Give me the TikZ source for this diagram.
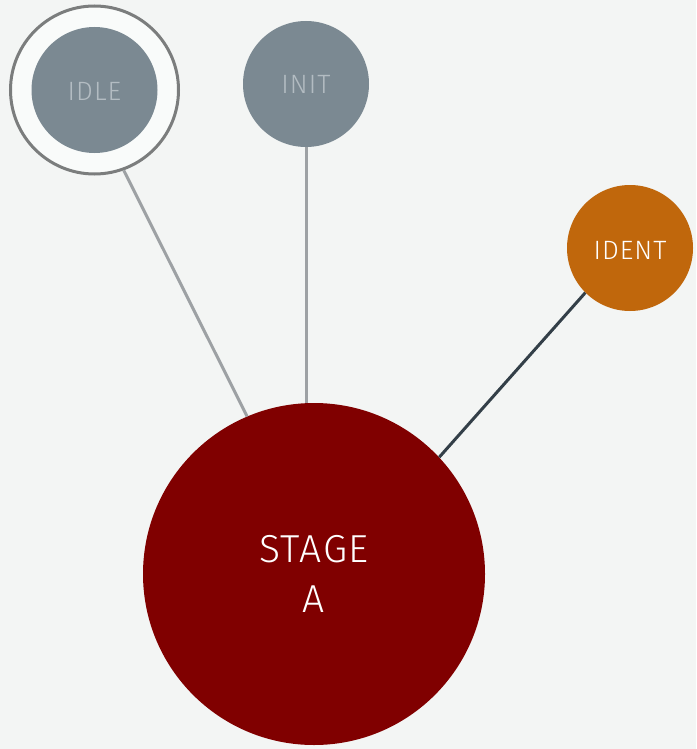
\documentclass[tikz,border=0pt]{standalone}
\usepackage{fontspec}
\setmainfont{Fira Sans Light}[LetterSpace=4]
\definecolor{bgc}{HTML}{F3F5F4}
\definecolor{slate}{HTML}{7B8992}
\definecolor{slatetext}{HTML}{B3BCC2}
\definecolor{ringfill}{HTML}{F9FBFA}
\definecolor{ringline}{HTML}{7B7D7D}
\definecolor{identc}{HTML}{C0670C}
\definecolor{stagec}{HTML}{800000}
\definecolor{lightline}{HTML}{9DA1A4}
\definecolor{darkline}{HTML}{333F48}
\begin{document}
\begin{tikzpicture}[x=1pt,y=-1pt,
  smallfont/.style={font=\fontsize{26.5}{31}\selectfont},
  smallnode/.style={circle,inner sep=0pt,minimum size=126pt,smallfont},
  grey/.style={smallnode,fill=slate,text=slatetext},
  ringstyle/.style={circle,inner sep=0pt,minimum size=168pt,draw=ringline,line width=3pt,fill=ringfill},
  bignode/.style={circle,inner sep=0pt,minimum size=342pt,fill=stagec,text=white,align=center,font=\fontsize{39}{50}\selectfont},
  linklight/.style={draw=lightline,line width=3pt},
  linkdark/.style={draw=darkline,line width=3pt}]
\fill[bgc] (0,0) rectangle (696,749);
\useasboundingbox (0,0) rectangle (696,749);
\node[ringstyle] (ring) at (94.5,90) {};
\node[grey] (idle) at (94.5,90) {};
\node[text=slatetext,smallfont] (idlet) at (94.5,91.5) {IDLE};
\node[grey] (init) at (306,84) {INIT};
\node[smallnode,fill=identc] (ident) at (630,248) {};
\node[text=white,smallfont] (identt) at (630,250.5) {IDENT};
\node[bignode] (stage) at (314,574) {STAGE\\A};
\draw[linklight] (ring.-70.6) -- (stage.113.9);
\draw[linklight] (init.south) -- (306,403) coordinate (inittop);
\draw[linkdark] (ident.-135.8) -- (stage.43.4);
\end{tikzpicture}
\end{document}
